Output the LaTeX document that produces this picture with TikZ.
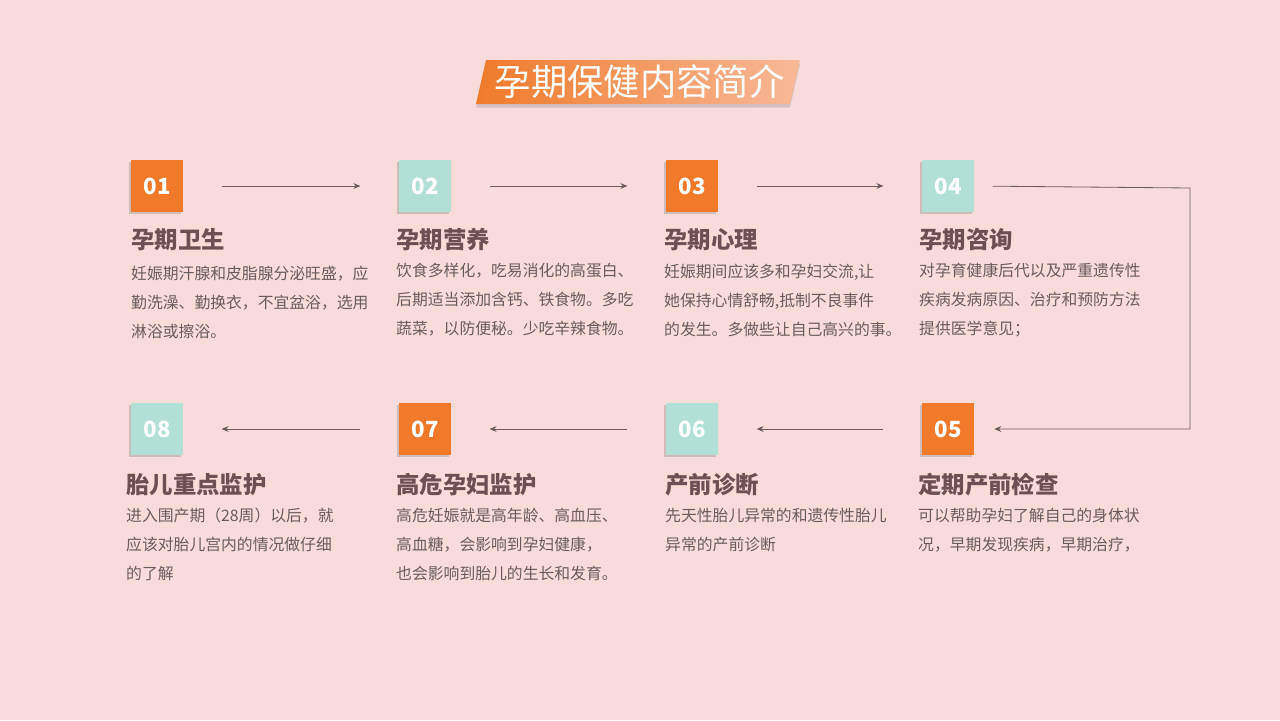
\documentclass[tikz,border=0pt]{standalone}
\usepackage{fontspec}
\setmainfont{Noto Sans CJK SC}
\usepackage{xcolor}
\definecolor{Page-bg}{HTML}{F9DCDA}
\definecolor{Step-orange}{HTML}{F07A2A}
\definecolor{Step-teal}{HTML}{B2DFD6}
\definecolor{Head-text}{HTML}{6E4F56}
\definecolor{Body-text}{HTML}{6B5B5F}
\definecolor{Line-grey}{HTML}{6B5A5E}
\definecolor{Title-light}{HTML}{F8B998}
\usetikzlibrary{arrows.meta,positioning,calc,shadows}

\begin{document}
\begin{tikzpicture} [
    x=0.03cm, y=-0.03cm, >={Stealth[length=6pt,width=5pt]},
    numbox/.style = {rectangle,minimum width=52*0.03cm,minimum height=52*0.03cm,inner sep=0,
        text=white,font=\bfseries\fontsize{19}{19}\selectfont,
        drop shadow={shadow xshift=-2pt,shadow yshift=-2pt,opacity=0.35}},
    hot/.style = {numbox,fill=Step-orange},
    cool/.style = {numbox,fill=Step-teal},
    heading/.style = {anchor=west,inner sep=0,text=Head-text,font=\bfseries\fontsize{20}{20}\selectfont},
    body/.style = {anchor=north west,inner sep=0,align=left,text=Body-text,font=\fontsize{13.5}{24.6}\selectfont},
    link/.style = {->,Line-grey,line width=0.7pt}
    ]

    \fill[Page-bg] (0,0) rectangle (1280,720);

    % title banner
    \shade[left color=Step-orange,right color=Title-light,drop shadow={opacity=0.3,shadow xshift=0pt,shadow yshift=-3pt}]
        (486,60) -- (800,60) -- (790,104) -- (476,104) -- cycle;
    \node (title) at (640,82) [text=white,font=\fontsize{31}{31}\selectfont] {孕期保健内容简介};

    % step boxes
    \node (n1) [hot]  at (157,186) {01};
    \node (n2) [cool] at (425,186) {02};
    \node (n3) [hot]  at (692,186) {03};
    \node (n4) [cool] at (948,186) {04};
    \node (n5) [hot]  at (948,429) {05};
    \node (n6) [cool] at (692,429) {06};
    \node (n7) [hot]  at (425,429) {07};
    \node (n8) [cool] at (157,429) {08};

    % headings
    \node (h1) [heading] at (131,240) {孕期卫生};
    \node (h2) [heading] at (396,240) {孕期营养};
    \node (h3) [heading] at (664,240) {孕期心理};
    \node (h4) [heading] at (919,240) {孕期咨询};
    \node (h5) [heading] at (918,485) {定期产前检查};
    \node (h6) [heading] at (665,485) {产前诊断};
    \node (h7) [heading] at (396,485) {高危孕妇监护};
    \node (h8) [heading] at (126,485) {胎儿重点监护};

    % descriptions
    \node (t1) [body] at (131,266) {妊娠期汗腺和皮脂腺分泌旺盛，应\\勤洗澡、勤换衣，不宜盆浴，选用\\淋浴或擦浴。};
    \node (t2) [body] at (396,263) {饮食多样化，吃易消化的高蛋白、\\后期适当添加含钙、铁食物。多吃\\蔬菜，以防便秘。少吃辛辣食物。};
    \node (t3) [body] at (664,264) {妊娠期间应该多和孕妇交流,让\\她保持心情舒畅,抵制不良事件\\的发生。多做些让自己高兴的事。};
    \node (t4) [body] at (919,263) {对孕育健康后代以及严重遗传性\\疾病发病原因、治疗和预防方法\\提供医学意见；};
    \node (t5) [body] at (918,508) {可以帮助孕妇了解自己的身体状\\况，早期发现疾病，早期治疗，};
    \node (t6) [body] at (665,508) {先天性胎儿异常的和遗传性胎儿\\异常的产前诊断};
    \node (t7) [body] at (396,508) {高危妊娠就是高年龄、高血压、\\高血糖，会影响到孕妇健康，\\也会影响到胎儿的生长和发育。};
    \node (t8) [body] at (126,508) {进入围产期（28周）以后，就\\应该对胎儿宫内的情况做仔细\\的了解};

    \coordinate (turn) at (1190,188);

    \foreach \a/\b in {n1/n2,n2/n3,n3/n4,n5/n6,n6/n7,n7/n8}
        \draw[link,shorten <=1.15cm,shorten >=1.15cm] (\a) -- (\b);

    \draw[link,shorten <=0.55cm,shorten >=0.6cm] (n4.east) -- (turn) |- (n5.east);

\end{tikzpicture}
\end{document}
